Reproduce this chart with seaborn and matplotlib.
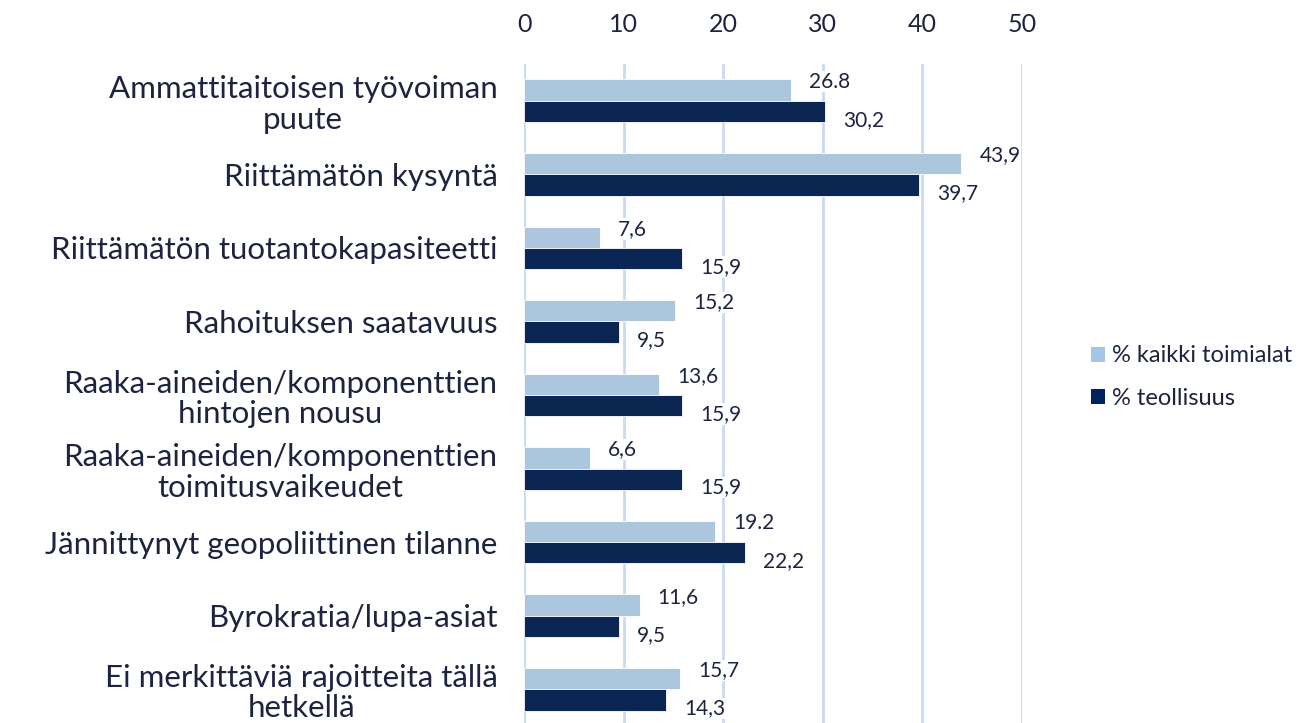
"""Rajoitteet: kaikki toimialat vs. teollisuus (vaakapylväät)."""
import matplotlib

matplotlib.use("Agg")
import matplotlib.pyplot as plt
import pandas as pd
import seaborn as sns
from matplotlib.patches import Patch

categories = [
    "Ammattitaitoisen työvoiman\npuute",
    "Riittämätön kysyntä",
    "Riittämätön tuotantokapasiteetti",
    "Rahoituksen saatavuus",
    "Raaka-aineiden/komponenttien\nhintojen nousu",
    "Raaka-aineiden/komponenttien\ntoimitusvaikeudet",
    "Jännittynyt geopoliittinen tilanne",
    "Byrokratia/lupa-asiat",
    "Ei merkittäviä rajoitteita tällä\nhetkellä",
]
series_names = ["% kaikki toimialat", "% teollisuus"]
kaikki = [26.8, 43.9, 7.6, 15.2, 13.6, 6.6, 19.2, 11.6, 15.7]
teollisuus = [30.2, 39.7, 15.9, 9.5, 15.9, 15.9, 22.2, 9.5, 14.3]
# arvojen tekstit kuten kuvassa (erottimet sekaisin)
kaikki_labels = ["26.8", "43,9", "7,6", "15,2", "13,6", "6,6", "19.2", "11,6", "15,7"]
teollisuus_labels = ["30,2", "39,7", "15,9", "9,5", "15,9", "15,9", "22,2", "9,5", "14,3"]
x_ticks = [0, 10, 20, 30, 40, 50]

colors = ["#A4C6E6", "#00235F"]
text_color = "#1E2340"
grid_color = "#C9DBF2"

df = pd.DataFrame({
    "category": categories * 2,
    "series": [series_names[0]] * len(categories) + [series_names[1]] * len(categories),
    "value": kaikki + teollisuus,
})

sns.set_style("white")
plt.rcParams["font.family"] = ["Lato", "DejaVu Sans"]

fig = plt.figure(figsize=(13.07, 7.23), dpi=100)
ax = fig.add_axes([524 / 1307, -3 / 723, 498 / 1307, 662 / 723])

sns.barplot(
    data=df, y="category", x="value", hue="series", orient="h",
    palette=colors, width=0.58, edgecolor="white", linewidth=0.6,
    legend=False, ax=ax,
)

ax.set_xlim(0, 50)
ax.set_xticks(x_ticks)
ax.set_xlabel("")
ax.set_ylabel("")
ax.xaxis.tick_top()
ax.tick_params(axis="x", length=0, pad=20, labelsize=18, labelcolor=text_color)
ax.tick_params(axis="y", length=0, pad=19, labelsize=22.5, labelcolor=text_color)
for lab in ax.get_yticklabels():
    lab.set_multialignment("center")
    lab.set_linespacing(1.12)
for s in ax.spines.values():
    s.set_visible(False)
ax.set_axisbelow(True)
ax.grid(axis="x", color=grid_color, linewidth=2)
ax.grid(axis="y", visible=False)

# arvojen tekstit: vaalea hieman ylös, tumma hieman alas
for cont, labels, dy in [(ax.containers[0], kaikki_labels, 6),
                         (ax.containers[1], teollisuus_labels, -6)]:
    for bar, txt in zip(cont, labels):
        ax.annotate(
            txt, (bar.get_width(), bar.get_y() + bar.get_height() / 2),
            xytext=(13, dy), textcoords="offset points",
            ha="left", va="center", fontsize=15, color=text_color,
            bbox=dict(facecolor="white", edgecolor="none", pad=0.5),
        )

handles = [Patch(facecolor=c, edgecolor="none") for c in colors]
fig.legend(
    handles, series_names, loc="center left", bbox_to_anchor=(1070 / 1307, 1 - 377 / 723),
    frameon=False, fontsize=17, labelcolor=text_color, handlelength=0.6,
    handleheight=0.6, handletextpad=0.3, labelspacing=0.9,
)

fig.savefig("out.png", dpi=100)
plt.close(fig)
